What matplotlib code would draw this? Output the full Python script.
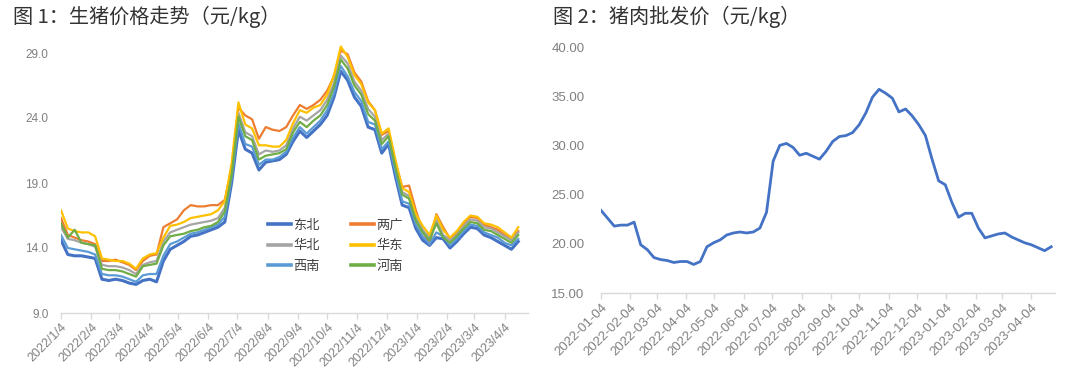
import matplotlib
matplotlib.use('Agg')
import matplotlib.pyplot as plt
from matplotlib import font_manager as fm
import pandas as pd

plt.rcParams['font.family'] = ['Noto Sans CJK SC', 'DejaVu Sans']
_names = {f.name for f in fm.fontManager.ttflist}
TICK_FONT = 'Liberation Sans Narrow' if 'Liberation Sans Narrow' in _names else 'Liberation Sans'

# ---------------- data: Fig.1 hog prices by region (yuan/kg), weekly ----------------
hog_dates = pd.date_range('2022-01-04', periods=68, freq='7D')
hog_region_names = ['东北', '两广', '华北', '华东', '西南', '河南']
northeast = [14.6, 13.5, 13.4, 13.4, 13.3, 13.2, 11.6, 11.5, 11.6, 11.5, 11.3, 11.2, 11.5, 11.6, 11.4,
             13.0, 13.9, 14.2, 14.5, 14.9, 15.0, 15.2, 15.4, 15.6, 16.0, 19.0, 23.1, 21.6, 21.3, 20.0,
             20.6, 20.7, 20.8, 21.2, 22.2, 23.0, 22.5, 23.0, 23.5, 24.2, 25.6, 27.6, 26.9, 25.6, 24.9,
             23.3, 23.1, 21.3, 22.0, 19.5, 17.3, 17.1, 15.5, 14.6, 14.2, 14.8, 14.7, 14.0, 14.5, 15.1,
             15.6, 15.5, 15.0, 14.8, 14.5, 14.2, 13.9, 14.5]
liangguang = [16.3, 15.0, 14.8, 14.6, 14.5, 14.3, 13.0, 13.0, 13.1, 12.9, 12.7, 12.3, 13.0, 13.4, 13.5,
              15.6, 15.9, 16.2, 16.9, 17.3, 17.2, 17.2, 17.3, 17.3, 17.7, 20.2, 24.8, 24.2, 23.9, 22.4,
              23.3, 23.1, 23.0, 23.3, 24.2, 25.0, 24.7, 25.0, 25.4, 26.1, 27.2, 29.2, 28.9, 27.5, 26.8,
              25.3, 24.6, 22.7, 23.0, 20.6, 18.7, 18.8, 16.9, 15.3, 14.3, 16.6, 15.6, 14.7, 15.2, 15.9,
              16.4, 16.3, 15.8, 15.6, 15.4, 15.0, 14.7, 15.3]
huabei = [15.6, 14.7, 14.6, 14.4, 14.3, 14.1, 12.7, 12.6, 12.6, 12.5, 12.3, 12.0, 12.7, 12.9, 13.0,
          14.5, 15.2, 15.4, 15.6, 15.8, 15.9, 16.0, 16.1, 16.3, 17.1, 19.8, 24.4, 22.9, 22.6, 21.2,
          21.5, 21.4, 21.5, 21.9, 23.2, 24.1, 23.8, 24.2, 24.6, 25.4, 26.7, 28.8, 28.2, 26.8, 26.1,
          24.7, 24.1, 22.3, 22.8, 20.4, 18.3, 18.0, 16.4, 15.4, 14.8, 16.2, 15.0, 14.6, 15.0, 15.7,
          16.2, 16.1, 15.6, 15.5, 15.2, 14.9, 14.6, 15.2]
huadong = [16.9, 15.5, 15.3, 15.2, 15.2, 14.9, 13.2, 13.1, 13.0, 13.0, 12.8, 12.4, 13.2, 13.5, 13.6,
           14.8, 15.7, 15.8, 16.0, 16.3, 16.4, 16.5, 16.6, 16.9, 17.6, 20.5, 25.2, 23.5, 23.2, 21.9,
           21.9, 21.8, 21.8, 22.3, 23.6, 24.6, 24.4, 24.8, 25.0, 25.8, 27.3, 29.5, 28.7, 27.3, 26.6,
           25.2, 24.6, 22.8, 23.2, 20.8, 18.6, 18.3, 16.6, 15.7, 15.0, 16.5, 15.4, 14.8, 15.3, 16.0,
           16.5, 16.4, 15.9, 15.8, 15.6, 15.2, 14.8, 15.6]
xinan = [15.0, 14.0, 13.9, 13.8, 13.7, 13.5, 12.0, 11.9, 11.9, 11.8, 11.6, 11.4, 11.9, 12.0, 12.0,
         13.4, 14.3, 14.5, 14.8, 15.1, 15.2, 15.4, 15.6, 15.8, 16.4, 19.3, 23.6, 22.0, 21.8, 20.4,
         20.8, 20.8, 21.0, 21.4, 22.5, 23.3, 22.8, 23.3, 23.8, 24.6, 25.9, 28.0, 27.2, 26.0, 25.3,
         23.7, 23.5, 21.6, 22.2, 19.8, 17.6, 17.4, 15.8, 14.9, 14.3, 15.2, 14.9, 14.2, 14.7, 15.3,
         15.8, 15.7, 15.2, 15.0, 14.8, 14.4, 14.2, 14.7]
henan = [15.9, 14.8, 15.4, 14.4, 14.3, 14.2, 12.4, 12.3, 12.3, 12.2, 12.0, 11.8, 12.6, 12.7, 12.8,
         14.2, 14.9, 15.0, 15.1, 15.3, 15.4, 15.6, 15.7, 16.0, 16.8, 19.6, 24.1, 22.6, 22.3, 20.8,
         21.1, 21.2, 21.3, 21.6, 22.9, 23.7, 23.3, 23.8, 24.2, 25.0, 26.4, 28.5, 27.8, 26.5, 25.8,
         24.3, 23.8, 22.0, 22.6, 20.2, 18.1, 17.8, 16.1, 15.2, 14.6, 15.9, 14.8, 14.4, 14.9, 15.5,
         16.0, 15.9, 15.4, 15.3, 15.0, 14.7, 14.4, 15.0]
hog_series = [northeast, liangguang, huabei, huadong, xinan, henan]
hog_colors = ['#4472C4', '#ED7D31', '#A5A5A5', '#FFC000', '#5B9BD5', '#70AD47']
hog_yticks = [9.0, 14.0, 19.0, 24.0, 29.0]

# ---------------- data: Fig.2 pork wholesale price (yuan/kg), weekly ----------------
pork_dates = pd.date_range('2022-01-04', periods=69, freq='7D')
pork_price = [23.4, 22.6, 21.8, 21.9, 21.9, 22.2, 19.9, 19.4, 18.6, 18.4, 18.3, 18.1, 18.2, 18.2, 17.9,
              18.2, 19.7, 20.1, 20.4, 20.9, 21.1, 21.2, 21.1, 21.2, 21.6, 23.2, 28.4, 30.0, 30.2, 29.8,
              29.0, 29.2, 28.9, 28.6, 29.4, 30.4, 30.9, 31.0, 31.3, 32.1, 33.3, 34.9, 35.7, 35.3, 34.8,
              33.4, 33.7, 33.0, 32.1, 31.0, 28.6, 26.4, 26.0, 24.2, 22.7, 23.1, 23.1, 21.6, 20.6, 20.8,
              21.0, 21.1, 20.7, 20.4, 20.1, 19.9, 19.6, 19.3, 19.7]
pork_yticks = [15.0, 20.0, 25.0, 30.0, 35.0, 40.0]

month_ticks = pd.date_range('2022-01-01', '2023-04-01', freq='MS') + pd.Timedelta(days=3)

# ---------------- figure ----------------
W, H = 1080, 392
fig = plt.figure(figsize=(W / 100, H / 100), dpi=100)
fig.patch.set_facecolor('white')

def px(x0, y_top, x1, y_bot):
    return [x0 / W, 1 - y_bot / H, (x1 - x0) / W, (y_bot - y_top) / H]

TICK_COLOR = '#808080'
SPINE_COLOR = '#D9D9D9'

def style_axis(ax):
    for s in ['top', 'right', 'left']:
        ax.spines[s].set_visible(False)
    ax.spines['bottom'].set_color(SPINE_COLOR)
    ax.spines['bottom'].set_linewidth(1.0)
    ax.tick_params(axis='x', direction='out', length=4, width=1, color=SPINE_COLOR,
                   labelcolor=TICK_COLOR, pad=2)
    ax.tick_params(axis='y', length=0, labelcolor=TICK_COLOR)
    ax.set_facecolor('white')

# ---- left chart ----
ax1 = fig.add_axes(px(61, 27, 528, 313))
for vals, name, col in zip(hog_series, hog_region_names, hog_colors):
    lw = 2.2 if name == '东北' else 1.6
    ax1.plot(hog_dates, vals, color=col, lw=lw, label=name, solid_joinstyle='round')
ax1.set_xlim(pd.Timestamp('2022-01-04'), pd.Timestamp('2023-04-28'))
ax1.set_ylim(9, 31)
ax1.set_yticks(hog_yticks)
ax1.set_yticklabels([f'{v:.1f}' for v in hog_yticks], fontfamily=TICK_FONT, fontsize=8.5)
ax1.tick_params(axis='y', pad=9)
ax1.set_xticks(month_ticks)
ax1.set_xticklabels([f'{d.year}/{d.month}/{d.day}' for d in month_ticks], rotation=45,
                    ha='right', rotation_mode='anchor', fontfamily=TICK_FONT, fontsize=9)
style_axis(ax1)

h, l = ax1.get_legend_handles_labels()
order = [0, 2, 4, 1, 3, 5]
leg = ax1.legend([h[i] for i in order], [l[i] for i in order], ncol=2, frameon=False,
                 loc='upper left', bbox_to_anchor=(268 / W, 1 - 219 / H),
                 bbox_transform=fig.transFigure, fontsize=9.5, handlelength=1.75,
                 handletextpad=0.15, columnspacing=2.4, labelspacing=0.55, borderpad=0,
                 borderaxespad=0)
for t in leg.get_texts():
    t.set_color('#404040')
for lh in leg.get_lines():
    lh.set_linewidth(2.6)

# ---- right chart ----
ax2 = fig.add_axes(px(601, 47, 1055, 293))
ax2.plot(pork_dates, pork_price, color='#4472C4', lw=2.0, solid_joinstyle='round')
ax2.set_xlim(pd.Timestamp('2022-01-04'), pd.Timestamp('2023-04-29'))
ax2.set_ylim(15, 40)
ax2.set_yticks(pork_yticks)
ax2.set_yticklabels([f'{v:.2f}' for v in pork_yticks], fontfamily=TICK_FONT, fontsize=9.5)
ax2.tick_params(axis='y', pad=12)
ax2.set_xticks(month_ticks)
ax2.set_xticklabels([d.strftime('%Y-%m-%d') for d in month_ticks], rotation=45,
                    ha='right', rotation_mode='anchor', fontfamily=TICK_FONT, fontsize=9.5)
style_axis(ax2)

# ---- titles ----
fig.text(13 / W, 1 - 17 / H, '图 1：生猪价格走势（元/kg）', fontsize=14.5, color='#333333',
         va='center', ha='left')
fig.text(553 / W, 1 - 17 / H, '图 2：猪肉批发价（元/kg）', fontsize=14.5, color='#333333',
         va='center', ha='left')

fig.savefig('out.png', dpi=100, facecolor='white')
